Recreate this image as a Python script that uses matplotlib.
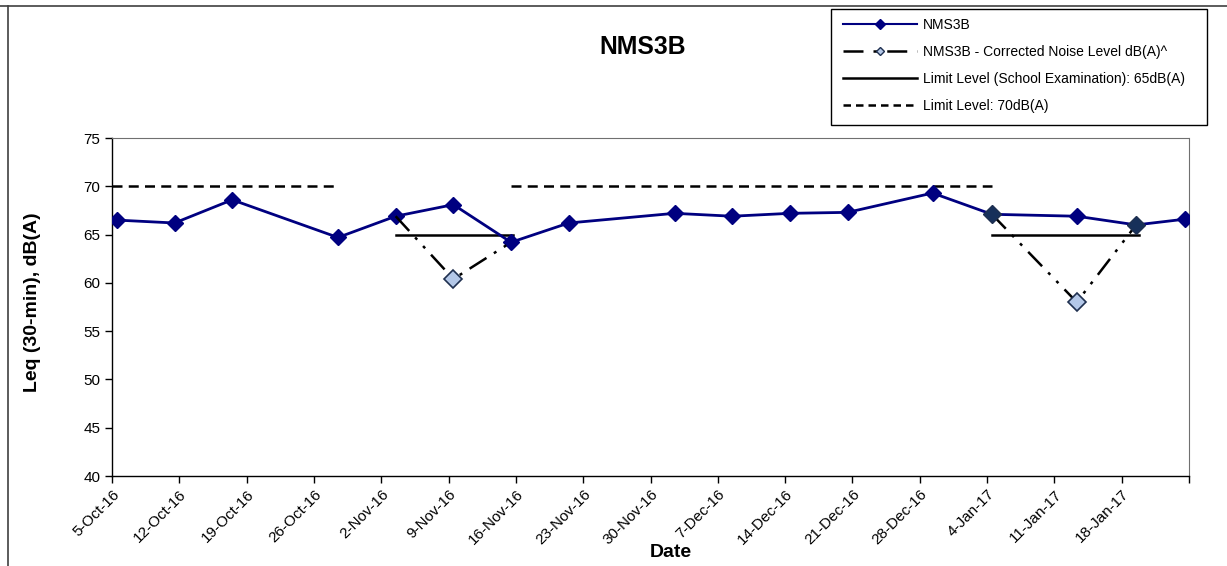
import matplotlib
matplotlib.use("Agg")
import matplotlib.pyplot as plt
from matplotlib.lines import Line2D
from matplotlib.patches import Rectangle
import pandas as pd

plt.rcParams["font.family"] = ["Liberation Sans", "DejaVu Sans"]

# measured noise levels
dates = ["2016-10-05 12:00", "2016-10-11 12:00", "2016-10-17 12:00", "2016-10-28 12:00",
         "2016-11-03 12:00", "2016-11-09 12:00", "2016-11-15 12:00", "2016-11-21 12:00",
         "2016-12-02 12:00", "2016-12-08 12:00", "2016-12-14 12:00", "2016-12-20 12:00",
         "2016-12-29 08:00", "2017-01-04 12:00", "2017-01-13 08:00", "2017-01-19 12:00",
         "2017-01-24 15:00"]
leq = [66.5, 66.2, 68.6, 64.7, 66.9, 68.1, 64.2, 66.2, 67.2, 66.9,
       67.2, 67.3, 69.3, 67.1, 66.9, 66.0, 66.6]

# corrected noise level (two exam periods)
corr1_dates = ["2016-11-03 12:00", "2016-11-09 12:00", "2016-11-15 12:00"]
corr1_vals = [66.9, 60.4, 64.2]
corr2_dates = ["2017-01-04 12:00", "2017-01-13 08:00", "2017-01-19 12:00"]
corr2_vals = [67.1, 58.0, 66.0]

# limit levels
lim70_a = (["2016-10-05 00:00", "2016-10-28 12:00"], [70, 70])
lim70_b = (["2016-11-15 12:00", "2017-01-04 12:00"], [70, 70])
lim65_a = (["2016-11-03 12:00", "2016-11-15 18:00"], [65, 65])
lim65_b = (["2017-01-04 12:00", "2017-01-19 18:00"], [65, 65])

tick_dates = pd.date_range("2016-10-05", "2017-01-25", freq="7D")


def dt(x):
    return pd.to_datetime(x, format="%Y-%m-%d %H:%M")


fig = plt.figure(figsize=(12.27, 5.66), dpi=100)
ax = fig.add_axes([112 / 1227, 1 - 476 / 566, 1077 / 1227, 338 / 566])

navy = "#000080"
dashdot = (0, (8, 3.5, 1.2, 3.5, 1.2, 3.5))

ax.plot(dt(lim70_a[0]), lim70_a[1], color="black", lw=1.8, ls=(0, (4, 2.5)))
ax.plot(dt(lim70_b[0]), lim70_b[1], color="black", lw=1.8, ls=(0, (4, 2.5)))
ax.plot(dt(lim65_a[0]), lim65_a[1], color="black", lw=1.8)
ax.plot(dt(lim65_b[0]), lim65_b[1], color="black", lw=1.8)

ax.plot(dt(dates), leq, color=navy, lw=2, marker="D", ms=8.5,
        mfc=navy, mec=navy, zorder=3)

for d, v in [(corr1_dates, corr1_vals), (corr2_dates, corr2_vals)]:
    ax.plot(dt(d), v, color="black", lw=1.8, ls=dashdot, zorder=4)
    ax.plot(dt(d[1:2]), v[1:2], ls="none", marker="D", ms=9,
            mfc="#b4c8e8", mec="#1f3050", mew=1.2, zorder=5)
ax.plot(dt([corr2_dates[0], corr2_dates[2]]),
        [corr2_vals[0], corr2_vals[2]], ls="none", marker="D", ms=9,
        mfc="#17305a", mec="#1f3050", zorder=5)

ax.set_xlim(tick_dates[0], tick_dates[-1])
ax.set_ylim(40, 75)
ax.set_yticks(range(40, 76, 5))
ax.set_xticks(tick_dates)
labels = [f"{t.day}-{t.strftime('%b')}-{t.strftime('%y')}" for t in tick_dates]
labels[-1] = ""
ax.set_xticklabels(labels, rotation=45, ha="right", rotation_mode="anchor")
ax.tick_params(axis="both", direction="out", length=5, width=1, labelsize=11,
               colors="black")
ax.tick_params(axis="x", pad=3)

for s in ["top", "right"]:
    ax.spines[s].set_linestyle((0, (1, 1)))
    ax.spines[s].set_color("#707070")
    ax.spines[s].set_linewidth(0.8)
for s in ["left", "bottom"]:
    ax.spines[s].set_color("black")
    ax.spines[s].set_linewidth(1)

ax.set_ylabel("Leq (30-min), dB(A)", fontsize=14, fontweight="bold")
ax.yaxis.set_label_coords(-0.066, 0.515)
ax.set_xlabel("Date", fontsize=14, fontweight="bold")
ax.xaxis.set_label_coords(0.519, -0.202)
fig.text(643 / 1227, 1 - 46.5 / 566, "NMS3B", fontsize=17.8, fontweight="bold",
         ha="center", va="center")

handles = [
    Line2D([], [], color=navy, lw=1.5, marker="D", ms=5, mfc=navy, mec=navy),
    Line2D([], [], color="black", lw=1.8, ls=(0, (8, 4, 1.5, 4)), marker="D", ms=4,
           mfc="#b4c8e8", mec="#1f3050"),
    Line2D([], [], color="black", lw=1.8),
    Line2D([], [], color="black", lw=1.8, ls=(0, (3, 2))),
]
names = ["NMS3B", "NMS3B - Corrected Noise Level dB(A)^",
         "Limit Level (School Examination): 65dB(A)", "Limit Level: 70dB(A)"]
leg = fig.legend(handles, names, loc="upper left",
                 bbox_to_anchor=(843 / 1227, 1 - 18 / 566), fontsize=10,
                 frameon=False, handlelength=5.3, labelspacing=0.93,
                 borderpad=0, handletextpad=0.43, borderaxespad=0)
fig.add_artist(Rectangle((831 / 1227, 1 - 125 / 566), 376 / 1227, 116 / 566,
                         transform=fig.transFigure, fill=False,
                         edgecolor="black", lw=1))

# chart area frame, cropped at right and bottom
fig.add_artist(Line2D([0, 1], [1 - 6 / 566, 1 - 6 / 566], color="#404040", lw=1.2,
                      transform=fig.transFigure))
fig.add_artist(Line2D([8 / 1227, 8 / 1227], [0, 1 - 6 / 566], color="#404040", lw=1.2,
                      transform=fig.transFigure))

fig.savefig("out.png", dpi=100)
